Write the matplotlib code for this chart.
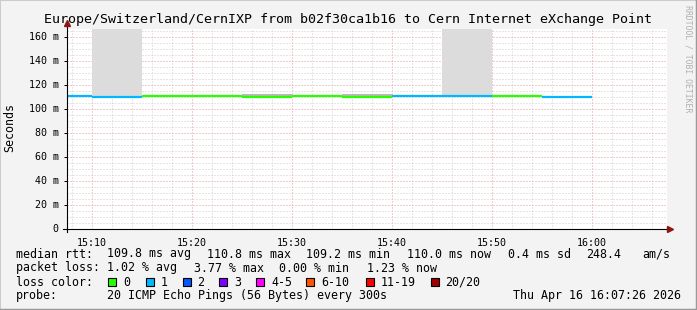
import matplotlib
matplotlib.use("Agg")
import matplotlib.pyplot as plt
from matplotlib.patches import Rectangle
from matplotlib.lines import Line2D

# values (5 minute steps, value plotted at step end)
step_end = ["15:10", "15:15", "15:20", "15:25", "15:30", "15:35",
            "15:40", "15:45", "15:50", "15:55", "16:00"]
median_ms = [110.3, 109.5, 110.2, 110.2, 109.4, 110.2, 109.3, 110.1, 110.8, 110.2, 110.0]
smoke_hi_ms = [110.3, 240.0, 110.2, 111.2, 111.8, 110.2, 111.9, 110.1, 230.0, 110.2, 110.0]
loss_pings = [1, 1, 0, 0, 0, 0, 0, 1, 1, 0, 1]

window = ("15:07:26", "16:07:26")
x_tick_labels = ["15:10", "15:20", "15:30", "15:40", "15:50", "16:00"]
y_ticks = [0, 20, 40, 60, 80, 100, 120, 140, 160]

loss_bins = ["0", "1", "2", "3", "4-5", "6-10", "11-19", "20/20"]
loss_colors = ["#26ff00", "#00b8ff", "#0059ff", "#7e00ff",
               "#ff00ff", "#ff5500", "#ff0000", "#a10000"]

title = "Europe/Switzerland/CernIXP from b02f30ca1b16 to Cern Internet eXchange Point"
rtt_stats = ["median rtt:", "109.8 ms avg", "110.8 ms max", "109.2 ms min",
             "110.0 ms now", "0.4 ms sd", "248.4", "am/s"]
loss_stats = ["packet loss:", "1.02 % avg", "3.77 % max", "0.00 % min", "1.23 % now"]
probe_info = ["probe:", "20 ICMP Echo Pings (56 Bytes) every 300s", "Thu Apr 16 16:07:26 2026"]

W, H = 697, 310
plt.rcParams['font.family'] = ['DejaVu Sans Mono']


def minutes(s):
    p = [int(v) for v in s.split(":")]
    sec = p[2] if len(p) > 2 else 0
    return p[0] * 60 + p[1] + sec / 60


def loss_index(n):
    for i, top in enumerate([0, 1, 2, 3, 5, 10, 19, 20]):
        if n <= top:
            return i
    return 7


def fx(x):
    return x / W


def fy(y):
    return 1 - y / H


fig = plt.figure(figsize=(W / 100, H / 100), dpi=100, facecolor="#f3f3f3")
ax = fig.add_axes([fx(66.5), fy(228.5), 600 / W, 200 / H])
ax.set_facecolor("white")

t_end = [minutes(s) for s in step_end]
ax.set_xlim(minutes(window[0]), minutes(window[1]))
ax.set_ylim(0, 200 / 1.2)

# grid
ax.set_xticks([minutes(s) for s in x_tick_labels])
ax.set_xticklabels(x_tick_labels)
ax.set_xticks([m for m in range(int(minutes(window[0])), int(minutes(window[1])) + 1) if m % 2 == 0], minor=True)
ax.set_yticks(y_ticks)
ax.set_yticklabels([f"{v} m" if v else "0" for v in y_ticks])
ax.set_yticks(range(0, 170, 5), minor=True)
ax.set_axisbelow(True)
ax.grid(which="minor", color="#cfcfcf", lw=0.72, ls=(0, (1, 2)))
ax.grid(which="major", color="#e79a9a", lw=0.72, ls=(0, (1, 2)))
for s in ax.spines.values():
    s.set_visible(False)
ax.tick_params(axis="x", which="both", length=0, pad=7, labelsize=7.2)
ax.tick_params(axis="y", which="major", length=2.5, width=0.72, pad=3, labelsize=7.2, direction="out")
ax.tick_params(axis="y", which="minor", length=0)

# smoke
for t, med, hi in zip(t_end, median_ms, smoke_hi_ms):
    if hi > med:
        shade = "#dcdcdc" if hi - med > 20 else "#b8b8b8"
        ax.bar(t - 5, hi - med, bottom=med, width=5, align="edge", color=shade, lw=0, zorder=2)

# median line coloured by loss
for t, med, n in zip(t_end, median_ms, loss_pings):
    ax.hlines(med, t - 5, t, colors=loss_colors[loss_index(n)], lw=1.6, zorder=3)

# axes with arrows
ax.add_line(Line2D([-0.006, 1.006], [0, 0], transform=ax.transAxes, color="black", lw=0.8, clip_on=False, zorder=4))
ax.add_line(Line2D([0, 0], [-0.015, 1.03], transform=ax.transAxes, color="black", lw=0.8, clip_on=False, zorder=4))
ax.plot([0], [1.03], marker="^", ms=5, color="#8b1414", transform=ax.transAxes, clip_on=False, zorder=5)
ax.plot([1.006], [0], marker=">", ms=5, color="#8b1414", transform=ax.transAxes, clip_on=False, zorder=5)

# titles
fig.text(fx(348), fy(19), title, ha="center", va="center", fontsize=9.6)
fig.text(fx(10), fy(128), "Seconds", rotation=90, ha="center", va="center", fontsize=8.4)
fig.text(fx(688), fy(59), "RRDTOOL / TOBI OETIKER", rotation=270, ha="center", va="center",
         fontsize=5.9, color="#b0b0b0")

# legend rows
rtt_x = [16, 107, 207, 306.5, 407.5, 507.5, 586.5, 642.5]
for x, s in zip(rtt_x, rtt_stats):
    fig.text(fx(x), fy(254), s, va="center", fontsize=8.4)
loss_x = [16, 107, 194, 279, 366.5]
for x, s in zip(loss_x, loss_stats):
    fig.text(fx(x), fy(268), s, va="center", fontsize=8.4)
fig.text(fx(16), fy(282), "loss color:", va="center", fontsize=8.4)
box_x = [108, 145.5, 182.5, 219, 256, 306, 366, 430.5]
for x, lab, c in zip(box_x, loss_bins, loss_colors):
    fig.add_artist(Rectangle((fx(x), fy(286)), 8 / W, 8 / H, transform=fig.transFigure,
                             facecolor=c, edgecolor="black", lw=0.8))
    fig.text(fx(x + 15), fy(282), lab, va="center", fontsize=8.4)
for x, s in zip([16, 107, 513], probe_info):
    fig.text(fx(x), fy(296), s, va="center", fontsize=8.4)

# 3d frame
fig.add_artist(Line2D([0, 0], [0, 1], transform=fig.transFigure, color="#cccccc", lw=1.5))
fig.add_artist(Line2D([0, 1], [1, 1], transform=fig.transFigure, color="#cccccc", lw=1.5))
fig.add_artist(Line2D([1, 1], [0, 1], transform=fig.transFigure, color="#9a9a9a", lw=2.5))
fig.add_artist(Line2D([0, 1], [0, 0], transform=fig.transFigure, color="#9a9a9a", lw=2.5))

fig.savefig("out.png", dpi=100, facecolor=fig.get_facecolor())
